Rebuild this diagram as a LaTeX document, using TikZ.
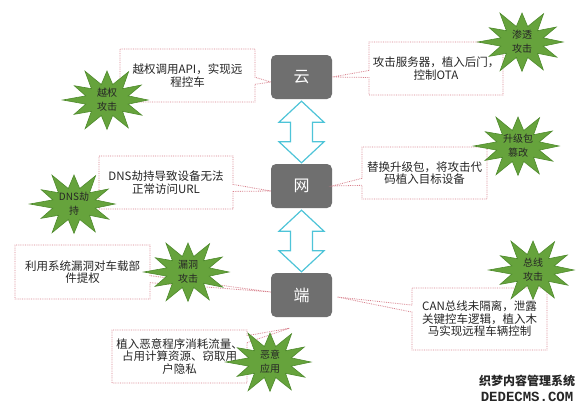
\documentclass[tikz,border=0pt]{standalone}
\usepackage{fontspec}
\setmainfont{Liberation Serif}
\setmonofont{Liberation Mono}
\newfontfamily\cjk{Noto Sans CJK SC}
\usetikzlibrary{calc,positioning,shapes.callouts}

\definecolor{boxgray}{HTML}{6F6F6F}
\definecolor{linkblue}{HTML}{4EC4D8}
\definecolor{notered}{HTML}{D8808C}
\definecolor{burstgreen}{HTML}{66A33C}
\definecolor{burstline}{HTML}{4E8A2C}

\tikzset{
    every node/.append style={font=\cjk},
    layer/.style={fill=boxgray, rounded corners=5pt, minimum width=61pt, minimum height=44pt,
        text=white, font=\cjk\fontsize{16}{18}\selectfont},
    note/.style={rectangle callout, draw=notered, densely dotted, line width=0.8pt, fill=white,
        minimum width=135pt, minimum height=53pt, align=center, text=black!85,
        font=\cjk\fontsize{11.5}{12.5}\selectfont, callout pointer width=7pt},
    burst/.style={fill=burstgreen, draw=burstline, line width=0.6pt},
    bursttext/.style={align=center, text=black!85, font=\cjk\fontsize{10}{14}\selectfont},
    dblarrow/.style={draw=linkblue, line width=1.2pt, fill=white, line join=miter}}

% starburst behind a label: name, x, y, text
\newcommand{\burst}[4]{%
    \filldraw[burst] plot[variable=\k, samples at={0,...,23}]
        ({#2+cos(\k*15)*(mod(\k,2)==0 ? 41*(1+0.08*sin(\k*97)) : 22)},
         {#3+sin(\k*15)*(mod(\k,2)==0 ? 31*(1+0.08*sin(\k*97)) : 16)}) -- cycle;
    \node[bursttext] (#1) at (#2,#3) {#4};}

\begin{document}
\begin{tikzpicture}[x=1pt,y=-1pt]
    \fill[white] (0,0) rectangle (588,407);
    \useasboundingbox (0,0) rectangle (588,407);

    % three layers
    \node[layer] (yun)  at (301.5,77)  {云};
    \node[layer] (wang) at (301.5,186) {网};
    \node[layer] (duan) at (301.5,295) {端};

    % links between layers
    \draw[dblarrow] let \p1=($(yun.south)+(0,2)$), \p2=($(wang.north)+(0,-1)$) in
        (\p1) -- (\x1+22.5pt,\y1-21pt) -- (\x1+11pt,\y1-21pt) -- (\x1+11pt,\y2+21pt)
        -- (\x2+22.5pt,\y2+21pt) -- (\p2) -- (\x2-22.5pt,\y2+21pt) -- (\x1-11pt,\y2+21pt)
        -- (\x1-11pt,\y1-21pt) -- (\x1-22.5pt,\y1-21pt) -- cycle;
    \draw[dblarrow] let \p1=($(wang.south)+(0,2)$), \p2=($(duan.north)+(0,-1)$) in
        (\p1) -- (\x1+22.5pt,\y1-21pt) -- (\x1+11pt,\y1-21pt) -- (\x1+11pt,\y2+21pt)
        -- (\x2+22.5pt,\y2+21pt) -- (\p2) -- (\x2-22.5pt,\y2+21pt) -- (\x1-11pt,\y2+21pt)
        -- (\x1-11pt,\y1-21pt) -- (\x1-22.5pt,\y1-21pt) -- cycle;

    % attack notes
    \node[note, callout absolute pointer={($(yun.west)+(0,5)$)}] (n-api) at (187.5,75.5)
        {越权调用API，实现远\\程控车};
    \node[note, minimum width=134pt, callout absolute pointer={(yun.east)}] (n-ota) at (436,68.5)
        {攻击服务器，植入后门，\\控制OTA};
    \node[note, minimum width=134pt, callout absolute pointer={($(wang.west)+(0,5)$)}] (n-dns) at (166,182.5)
        {DNS劫持导致设备无法\\正常访问URL};
    \node[note, minimum width=125pt, minimum height=52pt, callout absolute pointer={(wang.east)}] (n-pkg) at (424.5,173)
        {替换升级包，将攻击代\\码植入目标设备};
    \node[note, minimum height=54pt, callout absolute pointer={($(duan.west)+(0,-3)$)}] (n-bug) at (82.5,272)
        {利用系统漏洞对车载部\\件提权};
    \node[note, minimum height=62pt, callout absolute pointer={($(duan.east)+(5,2)$)}] (n-can) at (479.5,319)
        {CAN总线未隔离，泄露\\关键控车逻辑，植入木\\马实现远程车辆控制};
    \node[note, callout absolute pointer={($(duan.south)+(-12,11)$)}] (n-app) at (179.5,356.5)
        {植入恶意程序消耗流量、\\占用计算资源、窃取用\\户隐私};

    % attack types
    \burst{s-api}{107}{100}{越权\\攻击}
    \burst{s-ota}{522}{42}{渗透\\攻击}
    \burst{s-dns}{74}{204}{DNS劫\\持}
    \burst{s-pkg}{518}{146}{升级包\\篡改}
    \burst{s-bug}{188}{272}{漏洞\\攻击}
    \burst{s-can}{533}{270}{总线\\攻击}
    \burst{s-app}{270}{362}{恶意\\应用}

    % site mark
    \node[font=\cjk\bfseries\fontsize{12}{12}\selectfont, text=black!85] (mark) at (527,381) {织梦内容管理系统};
    \node[below=-2pt of mark, font=\ttfamily\bfseries\fontsize{14}{14}\selectfont, text=black!85] (mark-en) {DEDECMS.COM};
\end{tikzpicture}
\end{document}
